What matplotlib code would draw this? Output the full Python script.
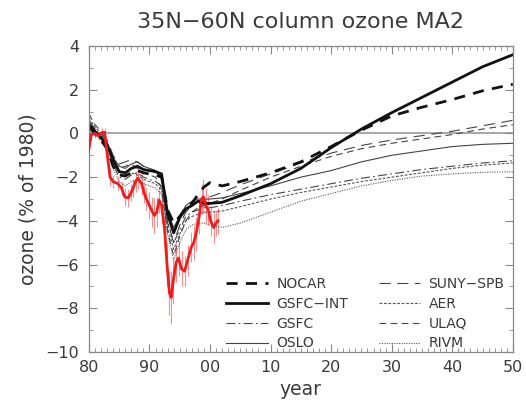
import numpy as np
import matplotlib
matplotlib.use('Agg')
import matplotlib.pyplot as plt
from matplotlib.ticker import MultipleLocator, FixedLocator, FixedFormatter

# ---- data -------------------------------------------------------------------
years = [1980, 1981, 1982, 1983, 1984, 1985, 1986, 1987, 1988, 1989, 1990, 1991,
         1992, 1993, 1994, 1995, 1996, 1997, 1998, 1999, 2000, 2002, 2005, 2010,
         2015, 2020, 2025, 2030, 2035, 2040, 2045, 2050]

nocar = [0.3, 0.0, -0.3, -0.7, -1.5, -1.9, -1.95, -1.8, -1.7, -1.8, -1.85, -1.9,
         -2.0, -3.5, -4.1, -3.8, -3.4, -3.2, -2.8, -2.45, -2.25, -2.4, -2.2, -1.8,
         -1.3, -0.6, 0.15, 0.8, 1.2, 1.55, 1.95, 2.25]
gsfc_int = [0.4, 0.1, -0.2, -0.5, -1.2, -1.75, -1.8, -1.6, -1.5, -1.65, -1.7, -1.75,
            -1.85, -3.7, -4.55, -3.85, -3.45, -3.3, -3.1, -3.2, -3.2, -3.15, -2.85, -2.3,
            -1.6, -0.65, 0.2, 0.95, 1.65, 2.35, 3.05, 3.6]
gsfc = [0.5, 0.2, -0.1, -0.6, -1.4, -2.0, -2.1, -1.9, -1.8, -2.0, -2.1, -2.2,
        -2.4, -4.0, -5.0, -4.4, -3.8, -3.6, -3.5, -3.4, -3.4, -3.3, -3.1, -2.8,
        -2.55, -2.3, -2.05, -1.85, -1.65, -1.5, -1.35, -1.25]
oslo = [0.3, 0.0, -0.2, -0.5, -1.1, -1.5, -1.6, -1.4, -1.3, -1.5, -1.6, -1.7,
        -2.0, -3.6, -4.3, -3.8, -3.3, -3.1, -3.0, -3.0, -3.0, -2.95, -2.75, -2.4,
        -2.0, -1.7, -1.3, -1.0, -0.8, -0.6, -0.5, -0.45]
suny_spb = [0.6, 0.2, 0.0, -0.3, -1.0, -1.4, -1.3, -1.2, -1.3, -1.5, -1.6, -1.7,
            -2.1, -4.1, -5.0, -4.2, -3.6, -3.3, -3.1, -3.0, -2.9, -2.7, -2.35, -1.85,
            -1.35, -0.9, -0.55, -0.3, -0.1, 0.1, 0.35, 0.6]
aer = [0.7, 0.3, 0.0, -0.5, -1.2, -1.7, -1.9, -1.8, -1.9, -2.1, -2.2, -2.3,
       -2.6, -4.3, -5.3, -4.6, -4.0, -3.8, -3.7, -3.6, -3.6, -3.55, -3.35, -3.0,
       -2.7, -2.45, -2.2, -2.0, -1.8, -1.6, -1.45, -1.35]
ulaq = [0.9, 0.4, 0.1, -0.4, -1.3, -1.6, -1.5, -1.4, -1.6, -1.8, -1.9, -2.0,
        -2.5, -4.5, -5.6, -4.7, -4.0, -3.6, -3.4, -3.3, -3.2, -3.0, -2.6, -2.0,
        -1.5, -1.05, -0.7, -0.45, -0.25, -0.05, 0.2, 0.4]
rivm = [0.2, -0.1, -0.3, -0.8, -1.6, -2.2, -2.4, -2.2, -2.1, -2.3, -2.4, -2.5,
        -2.8, -4.6, -5.8, -5.0, -4.4, -4.2, -4.1, -4.1, -4.2, -4.3, -4.1, -3.6,
        -3.1, -2.75, -2.4, -2.15, -1.95, -1.85, -1.78, -1.75]

# observations (red) with error bars
obs_year = [1979.9, 1980.4, 1981.0, 1981.6, 1982.2, 1982.6, 1983.0, 1983.5, 1984.0,
            1984.8, 1985.4, 1985.9, 1986.5, 1987.0, 1987.3, 1987.7, 1988.1, 1988.7,
            1989.1, 1989.5, 1990.0, 1990.5, 1990.8, 1991.2, 1991.6, 1992.0, 1992.5,
            1992.9, 1993.3, 1993.6, 1993.9, 1994.4, 1994.8, 1995.3, 1995.8, 1996.3,
            1996.9, 1997.3, 1997.7, 1998.2, 1998.6, 1998.9, 1999.3, 1999.7, 2000.1,
            2000.6, 2001.0, 2001.3]
obs_val = [-0.85, -0.05, 0.0, -0.1, 0.05, 0.05, -0.9, -2.0, -2.2, -2.3, -2.5, -2.9,
           -2.95, -2.7, -2.5, -2.2, -2.05, -2.3, -2.7, -3.0, -3.3, -3.6, -3.75, -3.6,
           -3.05, -3.3, -4.4, -6.0, -7.3, -7.5, -6.8, -5.9, -5.7, -6.2, -6.3, -5.8,
           -5.2, -5.0, -4.6, -3.8, -3.0, -2.9, -3.3, -3.5, -4.0, -4.3, -4.1, -4.0]
obs_err = [0.2, 0.2, 0.2, 0.2, 0.2, 0.2, 0.3, 0.4, 0.3, 0.3, 0.3, 0.4,
           0.4, 0.4, 0.4, 0.5, 0.5, 0.5, 0.5, 0.5, 0.6, 0.7, 0.8, 0.7,
           0.6, 0.8, 0.9, 1.0, 1.0, 1.2, 1.0, 0.9, 0.8, 0.8, 0.7, 0.7,
           0.7, 0.8, 0.8, 0.8, 0.7, 0.8, 0.8, 0.7, 0.7, 0.7, 0.6, 0.6]

xtick_pos = [1980, 1990, 2000, 2010, 2020, 2030, 2040, 2050]
xtick_lab = ['80', '90', '00', '10', '20', '30', '40', '50']
ytick_pos = [-10, -8, -6, -4, -2, 0, 2, 4]

# -----------------------------------------------------------------------------
txt = '#3a3a3a'
plt.rcParams['font.family'] = 'DejaVu Sans'

fig = plt.figure(figsize=(5.26, 4.07), dpi=100)
ax = fig.add_axes([0.169, 0.135, 0.806, 0.752])

ax.axhline(0, color='#999999', lw=1.2, zorder=1)

ax.errorbar(obs_year, obs_val, yerr=obs_err, fmt='none', ecolor='#ff8c8c',
            elinewidth=0.8, zorder=2)
ax.plot(obs_year, obs_val, color='#ee1c1c', lw=2.0, zorder=3)

ax.plot(years, rivm, color='#555555', lw=0.8, dashes=(1, 1.2), label='RIVM')
ax.plot(years, aer, color='#555555', lw=0.8, dashes=(2.5, 1.5), label='AER')
ax.plot(years, ulaq, color='#444444', lw=0.8, dashes=(6, 4), label='ULAQ')
ax.plot(years, suny_spb, color='#444444', lw=0.8, dashes=(10, 6), label='SUNY-SPB')
ax.plot(years, gsfc, color='#444444', lw=0.8, dashes=(8, 3, 1.5, 3), label='GSFC')
ax.plot(years, oslo, color='#444444', lw=0.8, label='OSLO')
ax.plot(years, nocar, color='#111111', lw=2.0, dashes=(4, 3), label='NOCAR')
ax.plot(years, gsfc_int, color='#111111', lw=2.0, label='GSFC-INT')

ax.set_xlim(1980, 2050)
ax.set_ylim(-10, 4)

ax.xaxis.set_major_locator(FixedLocator(xtick_pos))
ax.xaxis.set_major_formatter(FixedFormatter(xtick_lab))
ax.xaxis.set_minor_locator(MultipleLocator(1))
ax.yaxis.set_major_locator(FixedLocator(ytick_pos))
ax.yaxis.set_minor_locator(MultipleLocator(1))

ax.tick_params(which='both', direction='in', top=True, right=True,
               colors='#888888', labelcolor=txt, labelsize=11.5)
ax.tick_params(which='major', length=6, width=0.8)
ax.tick_params(which='minor', length=3, width=0.6)
ax.tick_params(axis='x', pad=6)
ax.tick_params(axis='y', pad=7)
for s in ax.spines.values():
    s.set_color('#888888')
    s.set_linewidth(0.9)

ax.set_xlabel('year', fontsize=13.5, color=txt, labelpad=3)
ax.set_ylabel('ozone (% of 1980)', fontsize=13.5, color=txt, labelpad=6)
ax.set_title('35N\u221260N column ozone MA2', fontsize=16, color=txt, pad=13)

# legend: two columns as in the reference
h = {l.get_label(): l for l in ax.get_lines()}
order = ['NOCAR', 'GSFC-INT', 'GSFC', 'OSLO', 'SUNY-SPB', 'AER', 'ULAQ', 'RIVM']
labels = [o.replace('-', '\u2212') for o in order]
leg = ax.legend([h[o] for o in order], labels, ncol=2, loc='lower right',
                bbox_to_anchor=(1.0, -0.022), frameon=False, fontsize=10,
                handlelength=3.0, handletextpad=0.6, columnspacing=2.2,
                labelspacing=0.42, borderaxespad=0.2)
for t in leg.get_texts():
    t.set_color(txt)

plt.savefig('out.png', dpi=100)
